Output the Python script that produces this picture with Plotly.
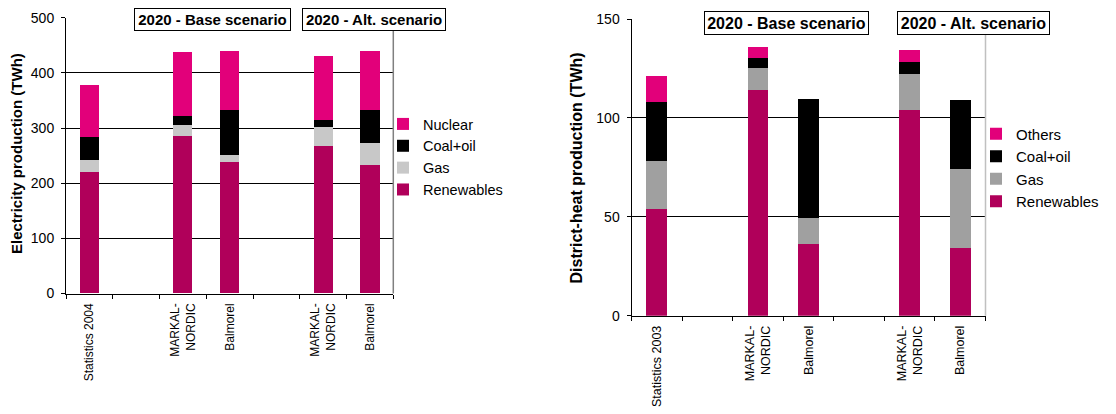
import plotly.graph_objects as go

# Column slots on each chart (None = empty spacer column)
elec_columns = ["Statistics 2004", None, "MARKAL-<br>NORDIC", "Balmorel",
                None, "MARKAL-<br>NORDIC", "Balmorel"]
heat_columns = ["Statistics 2003", None, "MARKAL-<br>NORDIC", "Balmorel",
                None, "MARKAL-<br>NORDIC", "Balmorel"]

# Electricity production (TWh)
elec_renewables = [220, None, 286, 239, None, 268, 233]
elec_gas = [22, None, 20, 12, None, 33, 40]
elec_coal_oil = [41, None, 16, 82, None, 14, 60]
elec_nuclear = [95, None, 115, 106, None, 115, 106]

# District-heat production (TWh)
heat_renewables = [54, None, 114, 36, None, 104, 34]
heat_gas = [24, None, 11, 13.5, None, 18, 40]
heat_coal_oil = [30, None, 5.5, 60, None, 6.5, 35]
heat_others = [13, None, 5.5, 0, None, 6, 0]

scenario_labels = ["2020 - Base scenario", "2020 - Alt. scenario"]

FONT = "Liberation Sans, Arial, sans-serif"
RENEW = "#B0005A"
PINK = "#E2007A"
COAL = "#000000"
GAS_LIGHT = "#C8C8C8"
GAS_DARK = "#A0A0A0"

W, H = 1116, 414


def px_x(p):
    return p / W


def px_y(p):
    return 1 - p / H


fig = go.Figure()

slots = list(range(len(elec_columns)))


def add_stack(series, xa, ya, legend):
    for name, vals, color in series:
        fig.add_trace(go.Bar(
            x=slots, y=vals, name=name, marker=dict(color=color, line=dict(width=0)),
            width=0.41, xaxis=xa, yaxis=ya, legend=legend,
        ))


add_stack([("Renewables", elec_renewables, RENEW),
           ("Gas", elec_gas, GAS_LIGHT),
           ("Coal+oil", elec_coal_oil, COAL),
           ("Nuclear", elec_nuclear, PINK)], "x", "y", "legend")
add_stack([("Renewables", heat_renewables, RENEW),
           ("Gas", heat_gas, GAS_DARK),
           ("Coal+oil", heat_coal_oil, COAL),
           ("Others", heat_others, PINK)], "x2", "y2", "legend2")

boundaries = [s - 0.5 for s in slots] + [slots[-1] + 0.5]
xrange = [-0.5, slots[-1] + 0.5]


def label_axis(domain, columns, size):
    return dict(domain=domain, range=xrange, tickmode="array", tickvals=slots,
                ticktext=[c or "" for c in columns], ticks="", tickangle=-90,
                ticklabelstandoff=4,
                tickfont=dict(family=FONT, size=size, color="#000"),
                showline=True, linecolor="#000", linewidth=1, showgrid=False,
                zeroline=False, fixedrange=True, automargin=False)


def tick_axis(overlay, anchor):
    return dict(overlaying=overlay, anchor=anchor, range=xrange, tickmode="array",
                tickvals=boundaries, ticks="outside", ticklen=4, tickcolor="#000",
                showticklabels=False, showgrid=False, zeroline=False, showline=False,
                automargin=False)


def value_axis(domain, top, dtick, anchor):
    return dict(domain=domain, range=[0, top], dtick=dtick, anchor=anchor,
                ticks="outside", ticklen=4, tickcolor="#000", ticklabelstandoff=4,
                tickfont=dict(family=FONT, size=14, color="#000"),
                showline=True, linecolor="#000", linewidth=1,
                showgrid=True, gridcolor="#000", gridwidth=1.2, zeroline=False,
                automargin=False)


left_x = [px_x(66), px_x(393.3)]
right_x = [px_x(631.5), px_x(985.5)]
left_y = [px_y(293.5), px_y(17.7)]
right_y = [px_y(315.7), px_y(19)]

fig.update_layout(
    width=W, height=H, margin=dict(l=0, r=0, t=0, b=0, autoexpand=False),
    paper_bgcolor="white", plot_bgcolor="white", barmode="stack",
    font=dict(family=FONT, color="#000"),
    xaxis=label_axis(left_x, elec_columns, 12) | dict(anchor="y"),
    xaxis2=label_axis(right_x, heat_columns, 12.5) | dict(anchor="y2"),
    xaxis3=tick_axis("x", "y"),
    xaxis4=tick_axis("x2", "y2"),
    yaxis=value_axis(left_y, 500, 100, "x"),
    yaxis2=value_axis(right_y, 150, 50, "x2"),
    legend=dict(x=px_x(383), xanchor="left", y=px_y(108), yanchor="top",
                traceorder="reversed", font=dict(family=FONT, size=14.5),
                bgcolor="rgba(0,0,0,0)"),
    legend2=dict(x=px_x(976), xanchor="left", y=px_y(117.5), yanchor="top",
                 traceorder="reversed", font=dict(family=FONT, size=15),
                 bgcolor="rgba(0,0,0,0)"),
)

# Invisible traces to activate the boundary-tick axes
for xa, ya in (("x3", "y"), ("x4", "y2")):
    fig.add_trace(go.Scatter(x=[None], y=[None], xaxis=xa, yaxis=ya,
                             showlegend=False, hoverinfo="skip"))

# Right-hand frame of each plot area
fig.add_shape(type="line", xref="x domain", yref="y domain", x0=1, x1=1, y0=0, y1=1,
              line=dict(color="#808080", width=1.5))
fig.add_shape(type="line", xref="x2 domain", yref="y2 domain", x0=1, x1=1, y0=0, y1=1,
              line=dict(color="#C0C0C0", width=1.5))

# Axis titles
fig.add_annotation(text="Electricity production (TWh)", x=px_x(16), y=px_y(154),
                   xref="paper", yref="paper", xanchor="center", yanchor="middle",
                   textangle=-90, showarrow=False,
                   font=dict(family=FONT, size=15, weight="bold"))
fig.add_annotation(text="District-heat production (TWh)", x=px_x(575.5), y=px_y(168),
                   xref="paper", yref="paper", xanchor="center", yanchor="middle",
                   textangle=-90, showarrow=False,
                   font=dict(family=FONT, size=16, weight="bold"))

# Scenario header boxes
boxes = [
    (scenario_labels[0], 212.5, 19.5, 155, 21, 15),
    (scenario_labels[1], 373.9, 19.5, 142, 21, 15),
    (scenario_labels[0], 786.3, 23, 163, 22, 16),
    (scenario_labels[1], 973.1, 23, 151, 22, 16),
]
for text, cx, cy, w, h, size in boxes:
    fig.add_annotation(text=text, x=px_x(cx), y=px_y(cy), xref="paper", yref="paper",
                       xanchor="center", yanchor="middle",
                       showarrow=False, width=w, height=h, borderpad=0,
                       bordercolor="#000", borderwidth=1, bgcolor="white",
                       font=dict(family=FONT, size=size, weight="bold"))

fig.write_html("out.html")
